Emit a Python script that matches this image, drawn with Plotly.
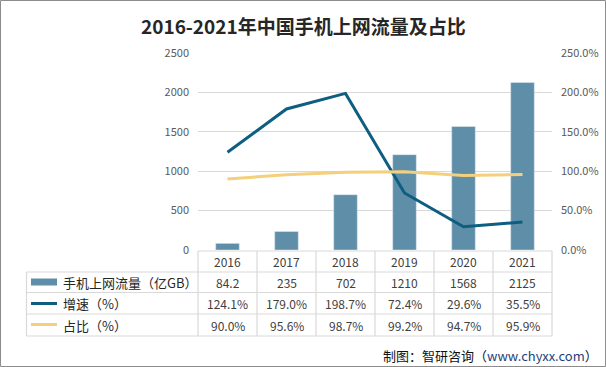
import plotly.graph_objects as go

years = ["2016", "2017", "2018", "2019", "2020", "2021"]
traffic = [84.2, 235, 702, 1210, 1568, 2125]
growth = [124.1, 179.0, 198.7, 72.4, 29.6, 35.5]
share = [90.0, 95.6, 98.7, 99.2, 94.7, 95.9]
series_names = ["手机上网流量（亿GB）", "增速（%）", "占比（%）"]
traffic_text = ["84.2", "235", "702", "1210", "1568", "2125"]

W, H = 606, 367
PL, PR, PT, PB = 198, 552, 53, 250
BAR_C = "#5F8FA8"
GROW_C = "#0D5E80"
SHARE_C = "#F4CF7C"
GRID_C = "#D9D9D9"
FONT = "Noto Sans CJK SC, Noto Sans, sans-serif"


def px(x):
    return (x - PL) / (PR - PL)


def py(y):
    return (PB - y) / (PB - PT)


fig = go.Figure()
fig.add_trace(go.Bar(x=list(range(6)), y=traffic, marker_color=BAR_C, width=0.4,
                     name=series_names[0], yaxis="y"))
fig.add_trace(go.Scatter(x=list(range(6)), y=growth, mode="lines",
                         line=dict(color=GROW_C, width=3), name=series_names[1], yaxis="y2"))
fig.add_trace(go.Scatter(x=list(range(6)), y=share, mode="lines",
                         line=dict(color=SHARE_C, width=3), name=series_names[2], yaxis="y2"))

shapes = []
annotations = []

# table grid
row_tops = [251, 272, 292.5, 314, 336]
def hline(y, x0, x1):
    shapes.append(dict(type="line", xref="paper", yref="paper", x0=px(x0), x1=px(x1),
                       y0=py(y), y1=py(y), line=dict(color=GRID_C, width=1.2)))
def vline(x, y0, y1):
    shapes.append(dict(type="line", xref="paper", yref="paper", x0=px(x), x1=px(x),
                       y0=py(y0), y1=py(y1), line=dict(color=GRID_C, width=1.2)))

hline(row_tops[0], PL, PR)
for y in row_tops[1:]:
    hline(y, 26.5, PR)
vline(26.5, row_tops[1], row_tops[-1])
colw = (PR - PL) / 6
for i in range(7):
    vline(PL + i * colw, row_tops[0], row_tops[-1])

# year labels and values
rows_vals = [traffic_text,
             [f"{v:.1f}%" for v in growth],
             [f"{v:.1f}%" for v in share]]
centers = [(row_tops[i] + row_tops[i + 1]) / 2 for i in range(4)]
for i, yr in enumerate(years):
    annotations.append(dict(x=i, xref="x", y=py(centers[0]), yref="paper", text=yr,
                            showarrow=False, xanchor="center", yanchor="middle",
                            font=dict(size=12, color="#404040", family=FONT)))
    for r in range(3):
        annotations.append(dict(x=i, xref="x", y=py(centers[r + 1]), yref="paper",
                                text=rows_vals[r][i], showarrow=False,
                                xanchor="center", yanchor="middle",
                                font=dict(size=12, color="#404040", family=FONT)))

# legend keys in table
shapes.append(dict(type="rect", xref="paper", yref="paper", x0=px(31), x1=px(57),
                   y0=py(285.5), y1=py(278.5), fillcolor=BAR_C, line=dict(width=0)))
shapes.append(dict(type="line", xref="paper", yref="paper", x0=px(31), x1=px(57),
                   y0=py(303.5), y1=py(303.5), line=dict(color=GROW_C, width=3)))
shapes.append(dict(type="line", xref="paper", yref="paper", x0=px(31), x1=px(57),
                   y0=py(324.5), y1=py(324.5), line=dict(color=SHARE_C, width=3)))
for r in range(3):
    annotations.append(dict(x=px(61), xref="paper", y=py(centers[r + 1]), yref="paper",
                            text=series_names[r], showarrow=False, xanchor="left",
                            yanchor="middle",
                            font=dict(size=13, color="#262626", family=FONT)))

# title
annotations.append(dict(x=px(303), xref="paper", y=py(25), yref="paper",
                        xanchor="center", yanchor="middle",
                        text="<b>2016-2021年中国手机上网流量及占比</b>", showarrow=False,
                        font=dict(size=19, color="#262626", family="Noto Sans CJK SC")))
# source
annotations.append(dict(x=px(600), xref="paper", y=py(355), yref="paper", xanchor="right",
                        yanchor="middle",
                        text="制图：智研咨询（<span style='color:#1F3F7A'>www.chyxx.com</span>）",
                        showarrow=False,
                        font=dict(size=13, color="#111111", family=FONT)))

# outer border
shapes.append(dict(type="rect", xref="paper", yref="paper", x0=px(0.5), x1=px(W - 0.5),
                   y0=py(0.5), y1=py(H - 0.5), line=dict(color="#8C8C8C", width=1)))

fig.update_layout(
    width=W, height=H,
    margin=dict(l=PL, r=W - PR, t=PT, b=H - PB, autoexpand=False),
    paper_bgcolor="white", plot_bgcolor="white",
    showlegend=False,
    bargap=0.6,
    xaxis=dict(range=[-0.5, 5.5], showticklabels=False, showgrid=False, zeroline=False,
               showline=False, ticks="", automargin=False),
    yaxis=dict(range=[0, 2500], dtick=500, showgrid=True, gridcolor=GRID_C, gridwidth=1,
               zeroline=False, tickfont=dict(size=11, color="#595959", family=FONT),
               ticklabelstandoff=8, automargin=False),
    yaxis2=dict(range=[0, 250], dtick=50, overlaying="y", side="right", showgrid=False,
                zeroline=False, tickformat=".1f", ticksuffix="%",
                tickfont=dict(size=11, color="#595959", family=FONT),
                ticklabelstandoff=8, automargin=False),
    shapes=shapes,
    annotations=annotations,
)

fig.write_html("out.html", config={"displayModeBar": False},
               post_script="document.body.style.margin='0';document.body.style.overflow='hidden';")
